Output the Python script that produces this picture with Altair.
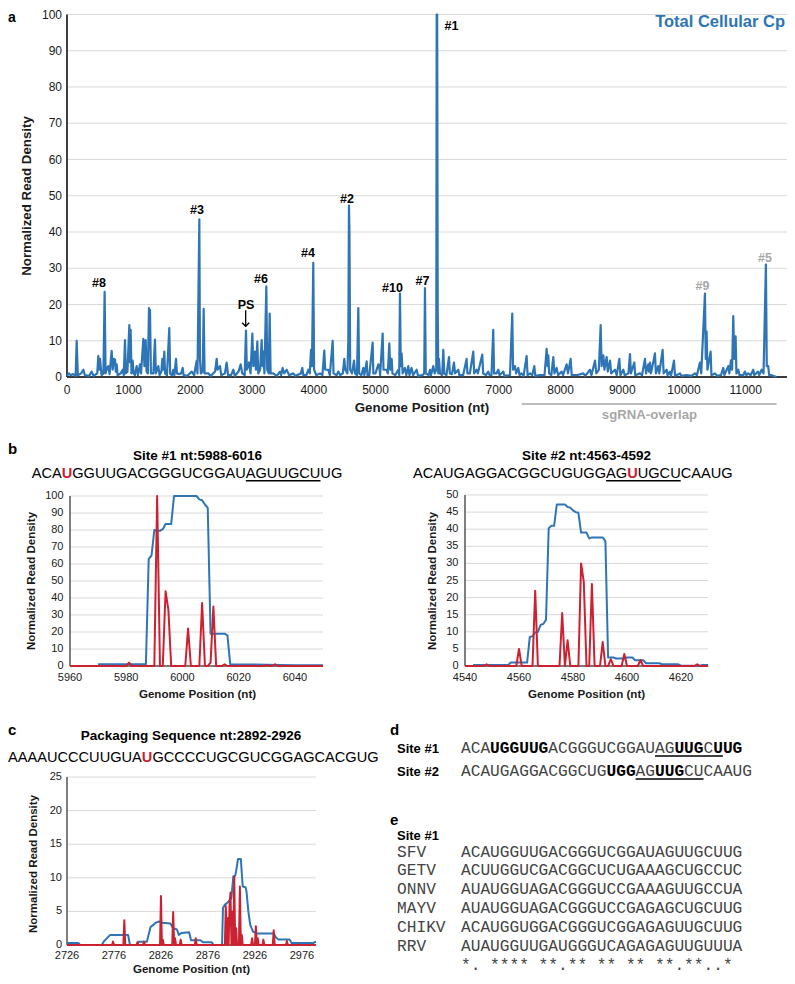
import altair as alt
import pandas as pd

BLUE = "#2e75b6"
RED = "#cc2131"
GRAY = "#a6a6a6"
GRID = "#d9d9d9"
INK = "#1a1a1a"
SANS = "Liberation Sans"
MONO = "Liberation Mono"
W, H = 779, 968

# ---------------- panel a : whole genome ----------------
a_points = [
    (0, 0.3), (30, 1.0), (60, 0.5), (100, 0.8), (140, 0.3), (157, 10), (175, 0.5), (230, 1), (265, 2),
    (290, 0.5), (360, 0.3), (400, 1.5), (430, 0.3), (490, 1), (508, 5.8), (520, 2), (535, 5), (560, 0.5),
    (590, 1), (610, 23.5), (625, 1), (650, 2.5), (670, 3), (690, 0.8), (724, 7.2), (740, 2), (760, 5),
    (778, 4.8), (790, 1.5), (805, 3.5), (820, 0.5), (870, 1), (902, 2), (920, 0.5), (940, 10.2), (955, 1),
    (980, 1.5), (1010, 14.3), (1022, 4), (1032, 13), (1045, 1), (1064, 4.5), (1080, 1), (1100, 0.5),
    (1129, 3), (1150, 0.5), (1183, 3.5), (1200, 1), (1237, 10.5), (1255, 3), (1275, 10.2), (1290, 1.5),
    (1310, 1), (1329, 19), (1337, 8), (1345, 18.5), (1360, 1), (1400, 1), (1426, 10.3), (1440, 1),
    (1480, 3), (1500, 0.5), (1530, 1.5), (1545, 5), (1560, 2), (1577, 7), (1590, 1), (1620, 0.5),
    (1658, 13.5), (1672, 1), (1700, 0.5), (1723, 2), (1740, 0.5), (1767, 5), (1782, 1), (1820, 0.8),
    (1850, 1), (1875, 2.5), (1890, 0.5), (1950, 0.3), (2021, 1.5), (2060, 0.5), (2102, 4.5), (2115, 1),
    (2145, 43.5), (2155, 5), (2170, 1), (2200, 1.5), (2215, 18.8), (2230, 1), (2290, 1), (2330, 0.3),
    (2400, 1.5), (2426, 5), (2440, 2), (2480, 3), (2500, 0.5), (2560, 1), (2588, 4), (2610, 0.5),
    (2660, 0.5), (2696, 2), (2720, 0.3), (2780, 1.5), (2815, 3.5), (2840, 1), (2880, 0.5), (2901, 12.8),
    (2915, 2), (2950, 4), (2975, 1), (3004, 12), (3020, 3), (3047, 7), (3062, 2), (3085, 9.8), (3100, 1),
    (3130, 2), (3155, 10.2), (3170, 3), (3182, 7), (3200, 1), (3231, 25), (3245, 2), (3270, 1),
    (3285, 17.5), (3300, 1), (3344, 1), (3400, 0.3), (3452, 1.5), (3470, 0.5), (3495, 2.5), (3520, 1),
    (3560, 2), (3600, 0.5), (3668, 1), (3700, 0.3), (3790, 1), (3814, 2.5), (3830, 0.5), (3880, 0.5),
    (3911, 2), (3935, 1), (3955, 7.5), (3970, 3), (3992, 31.5), (4005, 2), (4040, 0.5), (4100, 1),
    (4140, 0.5), (4170, 7.3), (4185, 2), (4235, 2), (4260, 0.5), (4306, 10), (4320, 1), (4370, 0.5),
    (4398, 1.5), (4430, 0.5), (4470, 1), (4495, 5), (4510, 2), (4545, 1), (4560, 10), (4570, 47.3),
    (4578, 40), (4590, 2), (4620, 1), (4652, 4.5), (4670, 1), (4700, 0.5), (4722, 19), (4735, 1),
    (4770, 0.5), (4803, 2.5), (4820, 0.5), (4857, 4.3), (4870, 0.5), (4900, 0.5), (4954, 9.5), (4965, 1),
    (5000, 1), (5046, 3.5), (5060, 3.2), (5075, 0.5), (5116, 12), (5130, 2), (5181, 2), (5200, 1),
    (5224, 9.3), (5240, 2), (5262, 5), (5275, 1), (5320, 0.5), (5370, 2), (5385, 0.5), (5397, 23),
    (5410, 3), (5424, 6.5), (5440, 1), (5478, 2.5), (5500, 0.5), (5532, 3), (5550, 0.5), (5586, 2.5),
    (5610, 0.5), (5667, 2), (5690, 0.3), (5760, 0.5), (5790, 1), (5802, 24.5), (5815, 1), (5860, 0.5),
    (5883, 2), (5900, 0.5), (5937, 3), (5960, 1), (5985, 2), (5992, 100), (6000, 100), (6008, 20),
    (6018, 1), (6029, 5), (6045, 1), (6080, 0.5), (6099, 7.5), (6115, 1), (6150, 0.5), (6191, 5.5),
    (6205, 1), (6240, 0.8), (6272, 4), (6290, 1), (6342, 2), (6360, 0.5), (6420, 0.5), (6477, 5),
    (6490, 1), (6530, 1), (6585, 7), (6600, 1), (6639, 2), (6660, 1), (6731, 6.2), (6745, 1), (6790, 0.5),
    (6828, 1.5), (6850, 0.5), (6880, 0.5), (6909, 13), (6922, 1), (6960, 1), (6990, 2), (7010, 0.5),
    (7072, 1.5), (7090, 0.3), (7180, 0.5), (7217, 17.5), (7230, 2), (7261, 3), (7280, 1), (7315, 2.5),
    (7335, 0.5), (7369, 1), (7400, 0.3), (7450, 5.8), (7465, 0.5), (7504, 1), (7540, 0.5), (7574, 3),
    (7590, 0.3), (7666, 0.5), (7740, 0.5), (7774, 7.8), (7790, 3), (7801, 6), (7815, 1), (7850, 0.5),
    (7882, 5.5), (7900, 1), (7936, 2.5), (7960, 0.5), (8017, 1.5), (8040, 0.5), (8098, 3.5), (8120, 1),
    (8163, 5), (8180, 0.5), (8260, 0.5), (8369, 1), (8400, 0.3), (8477, 2), (8500, 0.5), (8558, 4.5),
    (8580, 1), (8620, 2), (8650, 14.3), (8665, 3), (8693, 6), (8710, 2), (8747, 5.5), (8765, 1.5),
    (8801, 4.5), (8820, 1), (8882, 2), (8910, 0.5), (8952, 5), (8970, 0.5), (9017, 2), (9040, 0.5),
    (9100, 1), (9125, 6.3), (9140, 1), (9195, 4), (9210, 0.5), (9287, 1), (9320, 0.5), (9368, 5),
    (9385, 1), (9422, 3.5), (9435, 1.5), (9449, 4), (9465, 1), (9530, 6.5), (9545, 1), (9584, 3),
    (9600, 1), (9654, 7.5), (9670, 1), (9719, 2), (9735, 0.5), (9773, 1.5), (9790, 0.3), (9838, 4.5),
    (9855, 0.3), (9935, 1), (9960, 0.3), (10043, 0.5), (10120, 0.3), (10178, 1), (10210, 0.5),
    (10259, 4), (10280, 1), (10340, 23), (10353, 5), (10367, 12.5), (10380, 2), (10432, 7), (10445, 0.5),
    (10502, 1), (10540, 0.3), (10600, 0.5), (10637, 2.5), (10655, 0.5), (10718, 3), (10735, 1),
    (10761, 4.6), (10780, 2), (10799, 16.8), (10815, 5), (10837, 11.2), (10850, 1), (10880, 2),
    (10900, 0.5), (10960, 0.5), (10988, 1.5), (11010, 0.5), (11042, 1), (11080, 0.5), (11123, 2),
    (11140, 0.5), (11200, 1.5), (11220, 0.5), (11258, 2), (11290, 1), (11328, 31), (11342, 3),
    (11366, 3), (11380, 0.5), (11420, 0.5), (11500, 0),
]
a_xticks = [0, 1000, 2000, 3000, 4000, 5000, 6000, 7000, 8000, 9000, 10000, 11000]
a_yticks = [0, 10, 20, 30, 40, 50, 60, 70, 80, 90, 100]
a_labels = ["#1", "#2", "#3", "#4", "#6", "#8", "PS", "#10", "#7", "#9", "#5"]
a_label_pos = [6232, 4538, 2107, 3906, 3144, 519, 2901, 5276, 5762, 10300, 11313]
a_label_val = [95.6, 48.1, 45.0, 33.0, 26.0, 24.7, 18.7, 23.4, 25.3, 23.9, 31.7]
a_label_col = ["#000000"] * 9 + [GRAY, GRAY]
ps_arrow = {"pos": [2896], "top": [18.4], "tip": [14.0]}
sg_region = {"x1": [7370], "x2": [11502], "xm": [9441]}

# ---------------- panel b ----------------
b1_blue = [(5970, 1), (5987, 1), (5988, 63), (5989, 65), (5990, 80), (5991, 79.5), (5992, 79.5),
           (5993, 80.5), (5994, 83.5), (5996, 83.5), (5997, 100), (6005, 100), (6006, 98), (6007, 97.5),
           (6008, 95), (6009, 93), (6010, 19), (6015, 19), (6016, 18), (6017, 1), (6030, 0.8),
           (6040, 0.5), (6050, 0.5)]
b1_red = [(5960, 0), (5980, 0), (5981, 2), (5982, 0), (5990, 0), (5991, 100), (5992, 0), (5993, 0),
          (5994, 44), (5995, 33), (5996, 0), (6001, 0), (6002, 22), (6003, 0), (6006, 0), (6007, 37),
          (6008, 0), (6009, 0), (6010, 2), (6011, 35), (6012, 0), (6014, 0), (6015, 1), (6016, 0),
          (6029, 0), (6030, 0.5), (6031, 0), (6032, 0), (6033, 1), (6034, 0), (6050, 0)]
b2_blue = [(4543, 0.3), (4556, 0.3), (4557, 1), (4563, 1), (4564, 8.5), (4565, 8.7), (4566, 9.8),
           (4567, 10), (4568, 12), (4569, 12.3), (4570, 13.5), (4571, 40.3), (4572, 41), (4573, 41),
           (4574, 47.2), (4577, 47.2), (4578, 46.5), (4579, 46.3), (4580, 45.5), (4581, 45), (4582, 44.8),
           (4583, 39), (4585, 39), (4586, 37.3), (4587, 37.6), (4591, 37.6), (4592, 36.5), (4593, 2.5),
           (4595, 2.5), (4596, 2.2), (4599, 2.2), (4600, 2.5), (4602, 2.5), (4603, 1.7), (4606, 1.7),
           (4607, 0.8), (4612, 0.8), (4613, 0.5), (4619, 0.5), (4620, 0.1), (4627, 0.1), (4628, 0.3),
           (4630, 0.3)]
b2_red = [(4540, 0), (4547, 0), (4548, 0.5), (4549, 0), (4559, 0), (4560, 5), (4561, 0), (4565, 0),
          (4566, 22), (4567, 0), (4575, 0), (4576, 15.5), (4577, 0), (4578, 7.5), (4579, 0), (4582, 0),
          (4583, 30), (4584, 24.5), (4585, 0), (4586, 0), (4587, 24), (4588, 0), (4590, 0), (4591, 7),
          (4592, 0), (4593, 0), (4594, 2), (4595, 0), (4598, 0), (4599, 3.5), (4600, 0), (4604, 0),
          (4605, 1.8), (4606, 0), (4625, 0), (4626, 0.5), (4627, 0), (4630, 0)]
b1_xticks = [5960, 5980, 6000, 6020, 6040]
b1_yticks = [0, 10, 20, 30, 40, 50, 60, 70, 80, 90, 100]
b2_xticks = [4540, 4560, 4580, 4600, 4620]
b2_yticks = [0, 5, 10, 15, 20, 25, 30, 35, 40, 45, 50]

# ---------------- panel c ----------------
c_blue = [(2726, 0.3), (2738, 0.3), (2740, 0), (2763, 0), (2765, 0.5), (2772, 1.5), (2791, 1.5), (2793, 0),
          (2800, 0), (2802, 0.5), (2811, 0.5), (2815, 2.7), (2818, 3), (2820, 3.3), (2824, 3.5),
          (2827, 3.3), (2836, 3.2), (2839, 2.5), (2843, 2.3), (2845, 1.5), (2848, 1.8), (2856, 1.9),
          (2858, 0.7), (2868, 0.7), (2871, 0.4), (2880, 0.4), (2882, 0), (2891, 0), (2892, 5.5),
          (2894, 6), (2896, 6.2), (2900, 6.8), (2901, 7), (2903, 10.2), (2905, 10.3), (2906, 11),
          (2908, 12.8), (2911, 12.8), (2913, 8.7), (2916, 8.6), (2917, 8), (2919, 5), (2921, 3),
          (2924, 2), (2928, 1.7), (2946, 1.7), (2948, 1.2), (2951, 0.8), (2963, 0.8), (2965, 0.3),
          (2988, 0.3), (2991, 0.5)]
c_red = [(2726, 0), (2774, 0), (2775, 0.5), (2776, 0), (2786, 0), (2787, 3.7), (2788, 0), (2800, 0),
         (2801, 0.4), (2802, 0), (2807, 0), (2808, 0.5), (2809, 0), (2825, 0), (2826, 7.3), (2827, 0),
         (2828, 0.8), (2829, 0), (2838, 0), (2839, 4.9), (2840, 0), (2841, 1), (2842, 0), (2846, 0),
         (2847, 0.8), (2848, 0), (2862, 0), (2863, 1), (2864, 0), (2894, 0), (2895, 5.8), (2896, 0),
         (2897, 4), (2898, 0), (2899, 6), (2900, 7.8), (2901, 0), (2902, 5), (2903, 0), (2904, 10.2),
         (2905, 0), (2906, 2.5), (2907, 0), (2909, 0), (2910, 8.7), (2911, 0), (2912, 1.5), (2913, 0),
         (2922, 0), (2923, 1), (2924, 0), (2926, 0), (2927, 2.8), (2928, 0), (2929, 1), (2930, 0),
         (2934, 0), (2935, 0.8), (2936, 0), (2945, 0), (2946, 2.2), (2947, 0), (2959, 0), (2960, 0.6),
         (2961, 0), (2991, 0)]
c_xticks = [2726, 2776, 2826, 2876, 2926, 2976]
c_yticks = [0, 5, 10, 15, 20, 25]

# ---------------- sequences ----------------
seq_site1 = "ACAUGGUUGACGGGUCGGAUAGUUGCUUG"
seq_site2 = "ACAUGAGGACGGCUGUGGAGUUGCUCAAUG"
seq_ps = "AAAAUCCCUUGUAUGCCCCUGCGUCGGAGCACGUG"
d_bold_spans = [[(3, 9), (22, 25), (26, 29)], [(15, 18), (20, 23)]]
d_underline = [(20, 27), (18, 25)]
e_names = ["SFV", "GETV", "ONNV", "MAYV", "CHIKV", "RRV"]
e_seqs = ["ACAUGGUUGACGGGUCGGAUAGUUGCUUG",
          "ACUUGGUCGACGGCUCUGAAAGCUGCCUC",
          "AUAUGGUAGACGGGUCCGAAAGUUGCCUA",
          "AUAUGGUAGACGGGUCCGAGAGCUGCUUG",
          "ACAUGGUGGACGGGUCGGAGAGUUGCUUG",
          "AUAUGGUUGAUGGGUCAGAGAGUUGUUUA"]
e_cons = "*. **** **.** ** ** **.**..* "


def pts(p):
    return pd.DataFrame({"pos": [a for a, _ in p], "val": [b for _, b in p]})


def frame_layers(xs, ys, xdom, ydom, xt, yt, lfs, xlab_dy, ylab_dx, dcol):
    """grid, axis lines and tick labels drawn through the panel's own scales"""
    gy = pd.DataFrame({"v": yt, "lab": [str(v) for v in yt], "x0": xdom[0], "x1": xdom[1]})
    gx = pd.DataFrame({"v": xt, "lab": [str(v) for v in xt], "y0": ydom[0]})
    dom = pd.DataFrame({"x0": [xdom[0]], "x1": [xdom[1]], "y0": [ydom[0]], "y1": [ydom[1]]})
    grid = alt.Chart(gy).mark_rule(color=GRID, strokeWidth=1).encode(
        y=alt.Y("v:Q", scale=ys, axis=None), x=alt.X("x0:Q", scale=xs, axis=None), x2="x1:Q")
    ylab = alt.Chart(gy).mark_text(align="right", baseline="middle", font=SANS, fontSize=lfs, color=INK,
                                   dx=-ylab_dx).encode(
        y=alt.Y("v:Q", scale=ys, axis=None), x=alt.X("x0:Q", scale=xs, axis=None), text="lab:N")
    xlab = alt.Chart(gx).mark_text(align="center", baseline="alphabetic", font=SANS, fontSize=lfs, color=INK,
                                   dy=xlab_dy).encode(
        x=alt.X("v:Q", scale=xs, axis=None), y=alt.Y("y0:Q", scale=ys, axis=None), text="lab:N")
    xdl = alt.Chart(dom).mark_rule(color=dcol, strokeWidth=1.5).encode(
        x=alt.X("x0:Q", scale=xs, axis=None), x2="x1:Q", y=alt.Y("y0:Q", scale=ys, axis=None))
    ydl = alt.Chart(dom).mark_rule(color=dcol, strokeWidth=1.5).encode(
        x=alt.X("x0:Q", scale=xs, axis=None), y=alt.Y("y0:Q", scale=ys, axis=None), y2="y1:Q")
    return [grid, xdl, ydl, xlab, ylab]


# ---- panel a ----
a_xdom, a_ydom = [0, 11670], [0, 100]
ax_s = alt.Scale(domain=a_xdom, range=[59, 779], nice=False, zero=False)
ay_s = alt.Scale(domain=a_ydom, range=[369, 6.5], nice=False)
a_line = alt.Chart(pts(a_points)).mark_line(color=BLUE, strokeWidth=2.2, strokeJoin="round").encode(
    x=alt.X("pos:Q", scale=ax_s, axis=None), y=alt.Y("val:Q", scale=ay_s, axis=None))
a_lab = alt.Chart(pd.DataFrame({"pos": a_label_pos, "val": a_label_val, "t": a_labels, "col": a_label_col})
                  ).mark_text(font=SANS, fontSize=12.5, fontWeight="bold", align="center",
                              baseline="alphabetic").encode(
    x=alt.X("pos:Q", scale=ax_s, axis=None), y=alt.Y("val:Q", scale=ay_s, axis=None),
    text="t:N", color=alt.Color("col:N", scale=None, legend=None))
arrow_df = pd.DataFrame(ps_arrow)
a_arrow = alt.Chart(arrow_df).mark_rule(color="#000000", strokeWidth=1.3).encode(
    x=alt.X("pos:Q", scale=ax_s, axis=None), y=alt.Y("top:Q", scale=ay_s, axis=None), y2="tip:Q")
a_head = alt.Chart(arrow_df).mark_point(shape="M-1,-1L0,0L1,-1", size=50, filled=False, color="#000000",
                                        strokeWidth=1.3, opacity=1).encode(
    x=alt.X("pos:Q", scale=ax_s, axis=None), y=alt.Y("tip:Q", scale=ay_s, axis=None))
sg_df = pd.DataFrame(sg_region)
a_sg = alt.Chart(sg_df).mark_rule(color=GRAY, strokeWidth=1.5).encode(
    x=alt.X("x1:Q", scale=ax_s, axis=None), x2="x2:Q", y=alt.value(396))
a_sgt = alt.Chart(sg_df).mark_text(text="sgRNA-overlap", font=SANS, fontSize=13.2, fontWeight="bold",
                                   color=GRAY, align="center", baseline="alphabetic").encode(
    x=alt.X("xm:Q", scale=ax_s, axis=None), y=alt.value(410.5))
A = alt.layer(*frame_layers(ax_s, ay_s, a_xdom, a_ydom, a_xticks, a_yticks, 12, 16.6, 5, "#000000"),
              a_line, a_lab, a_arrow, a_head, a_sg, a_sgt)


def zoom_panel(blue, red, xdom, xrng, ydom, yrng, xt, yt, xlab_dy, ylab_dx):
    xs = alt.Scale(domain=xdom, range=xrng, nice=False, zero=False)
    ys = alt.Scale(domain=ydom, range=yrng, nice=False)
    bl = alt.Chart(pts(blue)).mark_line(color=BLUE, strokeWidth=2, strokeJoin="round").encode(
        x=alt.X("pos:Q", scale=xs, axis=None), y=alt.Y("val:Q", scale=ys, axis=None))
    rd = alt.Chart(pts(red)).mark_line(color=RED, strokeWidth=2, strokeJoin="round").encode(
        x=alt.X("pos:Q", scale=xs, axis=None), y=alt.Y("val:Q", scale=ys, axis=None))
    return alt.layer(*frame_layers(xs, ys, xdom, ydom, xt, yt, 11, xlab_dy, ylab_dx, "#555555"), bl, rd)


B1 = zoom_panel(b1_blue, b1_red, [5960, 6050], [62, 315], [0, 100], [658, 488], b1_xticks, b1_yticks, 14.9, 6.5)
B2 = zoom_panel(b2_blue, b2_red, [4540, 4630], [457, 700], [0, 50], [658, 487], b2_xticks, b2_yticks, 14.9, 6.5)
C = zoom_panel(c_blue, c_red, [2726, 2991], [59, 308], [0, 25], [937, 769], c_xticks, c_yticks, 14, 5)

# ---- panels d / e : monospace character grid ----
ix_s = alt.Scale(domain=[0, 29], range=[453, 734.3], nice=False, zero=False)
d_rows_y = [744.7, 768]
e_rows_y = [848.5, 867.4, 886.3, 905.2, 924.1, 943, 961.9]
norm_rows, bold_rows = [], []
for r, s in enumerate([seq_site1, seq_site2]):
    for i, ch in enumerate(s):
        isb = any(a <= i < b for a, b in d_bold_spans[r])
        (bold_rows if isb else norm_rows).append({"i": i + 0.5, "y": d_rows_y[r], "t": ch})
for r, s in enumerate(e_seqs + [e_cons]):
    for i, ch in enumerate(s):
        if ch != " ":
            norm_rows.append({"i": i + 0.5, "y": e_rows_y[r], "t": ch})


def mono_layer(rows, weight, col):
    return alt.Chart(pd.DataFrame(rows)).mark_text(font=MONO, fontSize=16.2, fontWeight=weight, color=col,
                                                   align="center", baseline="alphabetic").encode(
        x=alt.X("i:Q", scale=ix_s, axis=None), y=alt.Y("y:Q", scale=None, axis=None), text="t:N")


ul_d = pd.DataFrame({"i0": [a for a, _ in d_underline], "i1": [b for _, b in d_underline], "y": [748, 771]})
d_ul = alt.Chart(ul_d).mark_rule(color="#000000", strokeWidth=1.4).encode(
    x=alt.X("i0:Q", scale=ix_s, axis=None), x2="i1:Q", y=alt.Y("y:Q", scale=None, axis=None))
DE = alt.layer(mono_layer(norm_rows, "normal", "#444444"), mono_layer(bold_rows, "bold", "#000000"), d_ul)

# ---- free text annotations (pixel positioned) ----
AW = {"A": 0.667, "C": 0.722, "G": 0.778, "U": 0.722}


def sw(s, fs):
    return sum(AW[c] for c in s) * fs


SEQ_FS = 14.6
seq_norm, seq_red, ul_rows = [], [], []
for s, r, left, base, ul in [(seq_site1, 3, 23.7, 470, (20, 27)), (seq_site2, 20, 405, 470, (18, 25)),
                             (seq_ps, 13, 0, 753.7, None)]:
    xu = left + sw(s[:r], SEQ_FS)
    seq_norm.append({"x": left, "y": base, "t": s[:r], "fs": SEQ_FS, "col": "#000000"})
    seq_norm.append({"x": xu + sw(s[r], SEQ_FS), "y": base, "t": s[r + 1:], "fs": SEQ_FS, "col": "#000000"})
    seq_red.append({"x": xu, "y": base, "t": s[r], "fs": SEQ_FS, "col": RED})
    if ul:
        ul_rows.append({"x": left + sw(s[:ul[0]], SEQ_FS), "x2": left + sw(s[:ul[1]], SEQ_FS), "y": base + 2.7})

bold_center = [
    {"x": 189.5, "y": 452, "t": "Site #1 nt:5988-6016", "fs": 13.5, "col": "#000000"},
    {"x": 578.5, "y": 452, "t": "Site #2 nt:4563-4592", "fs": 13.5, "col": "#000000"},
    {"x": 183, "y": 731.7, "t": "Packaging Sequence nt:2892-2926", "fs": 13.5, "col": "#000000"},
    # x axis titles
    {"x": 414, "y": 403.5, "t": "Genome Position (nt)", "fs": 13.3, "col": INK},
    {"x": 189.5, "y": 690.3, "t": "Genome Position (nt)", "fs": 11.6, "col": INK},
    {"x": 578.5, "y": 690.3, "t": "Genome Position (nt)", "fs": 11.6, "col": INK},
    {"x": 183.5, "y": 965, "t": "Genome Position (nt)", "fs": 11.6, "col": INK},
]
y_titles = [
    {"x": 18.5, "y": 188, "t": "Normalized Read Density", "fs": 13.3, "col": INK},
    {"x": 24, "y": 573, "t": "Normalized Read Density", "fs": 11.5, "col": INK},
    {"x": 424.5, "y": 573, "t": "Normalized Read Density", "fs": 11.5, "col": INK},
    {"x": 26, "y": 856, "t": "Normalized Read Density", "fs": 11.5, "col": INK},
]
bold_left = [
    {"x": 0, "y": 14, "t": "a", "fs": 14, "col": "#000000"},
    {"x": 0, "y": 446, "t": "b", "fs": 15, "col": "#000000"},
    {"x": 0, "y": 727, "t": "c", "fs": 15, "col": "#000000"},
    {"x": 382, "y": 727, "t": "d", "fs": 15, "col": "#000000"},
    {"x": 382, "y": 817, "t": "e", "fs": 15, "col": "#000000"},
    {"x": 389, "y": 745, "t": "Site #1", "fs": 13, "col": "#000000"},
    {"x": 389, "y": 768, "t": "Site #2", "fs": 13, "col": "#000000"},
    {"x": 389, "y": 832, "t": "Site #1", "fs": 13, "col": "#000000"},
]
bold_right = [{"x": 777, "y": 19, "t": "Total Cellular Cp", "fs": 16.5, "col": BLUE}]
mono_left = [{"x": 389, "y": e_rows_y[k], "t": n, "fs": 16.2, "col": "#444444"} for k, n in enumerate(e_names)]


def text_layer(rows, align, weight, font=SANS, baseline="alphabetic", angle=0):
    return alt.Chart(pd.DataFrame(rows)).mark_text(align=align, baseline=baseline, font=font,
                                                   fontWeight=weight, angle=angle).encode(
        x=alt.X("x:Q", scale=None, axis=None), y=alt.Y("y:Q", scale=None, axis=None), text="t:N",
        size=alt.Size("fs:Q", scale=None, legend=None), color=alt.Color("col:N", scale=None, legend=None))


ann_ul = alt.Chart(pd.DataFrame(ul_rows)).mark_rule(color="#000000", strokeWidth=1.4).encode(
    x=alt.X("x:Q", scale=None, axis=None), x2="x2:Q", y=alt.Y("y:Q", scale=None, axis=None))
ANN = alt.layer(text_layer(seq_norm, "left", "normal"), text_layer(seq_red, "left", "bold"),
                text_layer(bold_center, "center", "bold"), text_layer(bold_left, "left", "bold"),
                text_layer(bold_right, "right", "bold"), text_layer(mono_left, "left", "normal", MONO),
                text_layer(y_titles, "center", "bold", baseline="middle", angle=270),
                ann_ul)

chart = alt.layer(A, B1, B2, C, DE, ANN).resolve_scale(x="independent", y="independent").properties(
    width=W, height=H, padding=0, autosize=alt.AutoSizeParams(type="none")
).configure_view(stroke=None)

chart.save("out.html", embed_options={"renderer": "svg", "actions": False})
